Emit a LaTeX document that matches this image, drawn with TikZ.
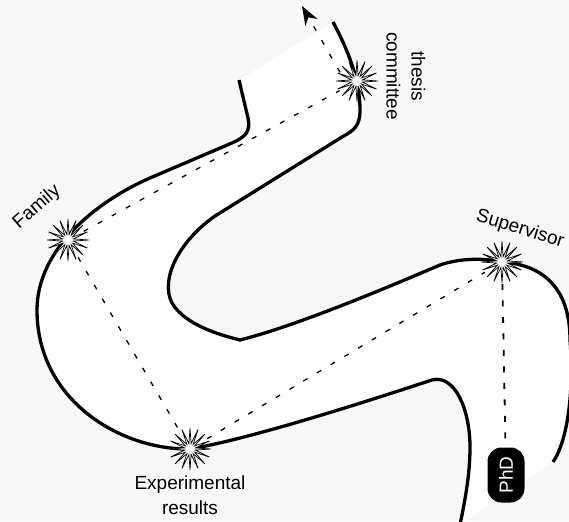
\documentclass[tikz,border=0pt]{standalone}
\usepackage{fontspec}
\setmainfont{Liberation Sans}
\usetikzlibrary{shapes.geometric,arrows.meta}
\begin{document}
\begin{tikzpicture}[x=1pt,y=-1pt,
  road/.style={line width=3.3pt, line join=round},
  link/.style={line width=1.3pt, dash pattern=on 5pt off 11pt},
  vlink/.style={line width=1.8pt, dash pattern=on 6pt off 10.5pt},
  burst/.style={star, star points=16, star point ratio=3.8, minimum size=42pt,
    inner sep=0pt, draw, fill=white, line width=0.7pt},
  lbl/.style={font=\fontsize{19}{25}\selectfont, align=center, inner sep=0pt},
]
\useasboundingbox (0,0) rectangle (569,521);
\begin{scope}
\clip (0,0) rectangle (569,521);
\fill[black!3] (0,0) rectangle (569,521);
% road surface
\fill[white] (239,80) -- (248,118) .. controls (251,132) and (245,137) .. (232,143)
  -- (150,178) .. controls (95,202) and (37,250) .. (37,310)
  .. controls (37,400) and (120,450) .. (190,449)
  .. controls (260,437) and (395,392) .. (432,380)
  .. controls (455,374) and (470,410) .. (470,447)
  .. controls (470,475) and (465,500) .. (460,525)
  -- (553,462) .. controls (568,440) and (574,390) .. (570,340)
  .. controls (570,290) and (545,265) .. (502,262)
  .. controls (485,258) and (460,258) .. (440,265)
  .. controls (400,282) and (300,325) .. (240,340)
  .. controls (220,335) and (185,325) .. (172,303)
  .. controls (160,280) and (178,242) .. (215,216)
  -- (342,137) .. controls (355,130) and (360,125) .. (360,110)
  .. controls (360,80) and (348,50) .. (333,22) -- cycle;
% road edges
\draw[road] (239,80) -- (248,118) .. controls (251,132) and (245,137) .. (232,143)
  -- (150,178) .. controls (95,202) and (37,250) .. (37,310)
  .. controls (37,400) and (120,450) .. (190,449)
  .. controls (260,437) and (395,392) .. (432,380)
  .. controls (455,374) and (470,410) .. (470,447)
  .. controls (470,475) and (465,500) .. (460,525);
\draw[road] (333,22) .. controls (348,50) and (360,80) .. (360,110)
  .. controls (360,125) and (355,130) .. (342,137) -- (215,216)
  .. controls (178,242) and (160,280) .. (172,303)
  .. controls (185,325) and (220,335) .. (240,340)
  .. controls (300,325) and (400,282) .. (440,265)
  .. controls (460,258) and (485,258) .. (502,262)
  .. controls (545,265) and (570,290) .. (570,340)
  .. controls (574,390) and (568,440) .. (553,462);
\end{scope}

% milestones
\coordinate (thesc) at (357,81);
\coordinate (famc) at (68,240);
\coordinate (expc) at (190,449);
\coordinate (supc) at (502,262);
\coordinate (tip) at (302,6);

\node[rotate=90, fill=black, text=white, rounded corners=14pt, minimum width=55pt,
  minimum height=37pt, inner sep=0pt, font=\fontsize{19}{25}\selectfont] (phd) at (506,475) {PhD};

\draw[link, shorten <=18pt, shorten >=20pt] (famc) -- (thesc);
\draw[link, shorten <=20pt, shorten >=18pt] (famc) -- (expc);
\draw[link, shorten <=20pt, shorten >=20pt] (expc) -- (supc);
\draw[vlink, shorten <=22pt] (supc) -- (phd);
\draw[link, shorten <=10pt, -{Stealth[length=19pt,width=14pt,inset=6pt]}] ([xshift=-12pt]thesc) -- (tip);

\node[burst] (thes) at (thesc) {};
\node[burst] (fam) at (famc) {};
\node[burst] (exp) at (expc) {};
\node[burst] (sup) at (supc) {};

\node[lbl, rotate=-90] (thesl) at (406,76) {thesis\\committee};
\node[lbl, rotate=41] (faml) at (37,207) {Family};
\node[lbl, rotate=-17] (supl) at (520,229) {Supervisor};
\node[lbl] (expl) at (190,495) {Experimental\\results};
\end{tikzpicture}
\end{document}
